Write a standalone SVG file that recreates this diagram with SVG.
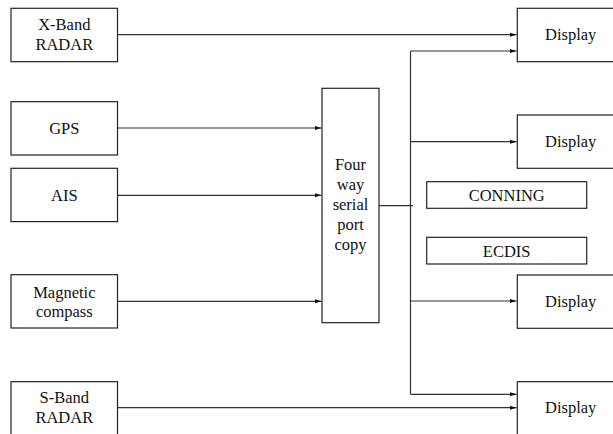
<svg xmlns="http://www.w3.org/2000/svg" width="613" height="434" viewBox="0 0 613 434">
<style>
.box{fill:#fff;stroke:#222;stroke-width:1.2}
.t{font-family:'Liberation Serif','Times New Roman','DejaVu Serif',serif;font-size:16.5px;fill:#111;text-anchor:middle}
.c{fill:none;stroke:#333;stroke-width:1.2}
</style>
<defs>
<marker id="ah" markerWidth="8" markerHeight="6" refX="7" refY="3" orient="auto" markerUnits="userSpaceOnUse">
<path d="M0,0.8 L7,3 L0,5.2 Z" fill="#111"/>
</marker>
</defs>
<rect width="613" height="434" fill="#fff"/>
<g id="connectors">
<path class="c" d="M117.5,34.7 H516.5" marker-end="url(#ah)"/>
<path class="c" d="M117.5,128 H321.5" marker-end="url(#ah)"/>
<path class="c" d="M117.5,195.3 H321.5" marker-end="url(#ah)"/>
<path class="c" d="M117.5,301.3 H321.5" marker-end="url(#ah)"/>
<path class="c" d="M117.5,407.7 H516.5" marker-end="url(#ah)"/>
<path class="c" d="M379,205.7 H413"/>
<path class="c" d="M410.5,51 V394.3"/>
<path class="c" d="M410.5,51 H516.5" marker-end="url(#ah)"/>
<path class="c" d="M410.5,141.7 H516.5" marker-end="url(#ah)"/>
<path class="c" d="M410.5,301 H516.5" marker-end="url(#ah)"/>
<path class="c" d="M410.5,394.3 H516.5" marker-end="url(#ah)"/>
</g>
<g id="xband"><rect class="box" x="11" y="8.3" width="106.5" height="53.4"/><text class="t" x="64.3" y="30">X-Band</text><text class="t" x="64.3" y="50">RADAR</text></g>
<g id="gps"><rect class="box" x="11" y="101.7" width="106.5" height="53.3"/><text class="t" x="64.3" y="134">GPS</text></g>
<g id="ais"><rect class="box" x="11" y="168.3" width="106.5" height="53.3"/><text class="t" x="64.3" y="201">AIS</text></g>
<g id="compass"><rect class="box" x="11" y="274.7" width="106.5" height="53.3"/><text class="t" x="64.3" y="297.5">Magnetic</text><text class="t" x="64.3" y="317">compass</text></g>
<g id="sband"><rect class="box" x="11" y="381.7" width="106.5" height="53.3"/><text class="t" x="64.3" y="403">S-Band</text><text class="t" x="64.3" y="423">RADAR</text></g>
<g id="copy"><rect class="box" x="322" y="88.3" width="57" height="234.4"/>
<text class="t" x="350.5" y="170">Four</text><text class="t" x="350.5" y="190">way</text><text class="t" x="350.5" y="210">serial</text><text class="t" x="350.5" y="230">port</text><text class="t" x="350.5" y="250">copy</text></g>
<g id="display1"><rect class="box" x="517.3" y="8.3" width="107" height="53.4"/><text class="t" x="570.7" y="40">Display</text></g>
<g id="display2"><rect class="box" x="517.3" y="115" width="107" height="53.3"/><text class="t" x="570.7" y="147">Display</text></g>
<g id="conning"><rect class="box" x="426.7" y="181.7" width="160" height="26.6"/><text class="t" x="506.7" y="200.5">CONNING</text></g>
<g id="ecdis"><rect class="box" x="426.7" y="237.3" width="160" height="26.7"/><text class="t" x="506.7" y="256.5">ECDIS</text></g>
<g id="display3"><rect class="box" x="517.3" y="275" width="107" height="53.3"/><text class="t" x="570.7" y="307">Display</text></g>
<g id="display4"><rect class="box" x="517.3" y="381.7" width="107" height="53.3"/><text class="t" x="570.7" y="413">Display</text></g>
</svg>
